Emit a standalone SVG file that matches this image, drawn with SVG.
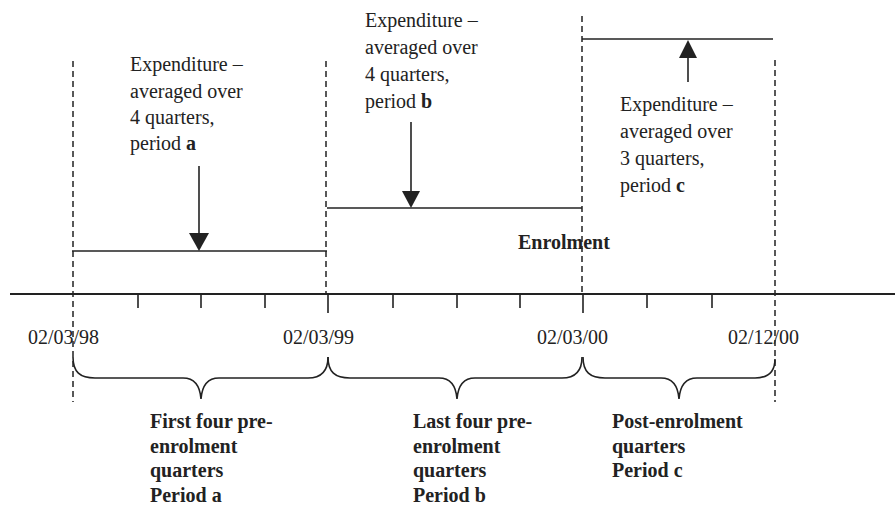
<svg xmlns="http://www.w3.org/2000/svg" width="895" height="507" viewBox="0 0 895 507">
<style>
text{font-family:"Liberation Serif","Times New Roman",serif;font-size:20px;fill:#222}
.b{font-weight:bold}
.ln{stroke:#222;stroke-width:1.6;fill:none}
.ax{stroke:#222;stroke-width:2;fill:none}
.dash{stroke:#222;stroke-width:1.5;stroke-dasharray:6 4;fill:none}
.ah{fill:#222;stroke:none}
</style>
<rect width="895" height="507" fill="#fff"/>
<g id="guides">
<line class="dash" x1="73" y1="61" x2="73" y2="402"/>
<line class="dash" x1="326" y1="61" x2="326" y2="294"/>
<line class="dash" x1="582" y1="16" x2="582" y2="294"/>
<line class="dash" x1="775" y1="60" x2="775" y2="402"/>
</g>
<g id="axis">
<line class="ax" x1="10" y1="294" x2="895" y2="294"/>
<path class="ln" d="M138,294V308M201,294V308M265,294V308M328,294V313M393,294V308M457,294V308M520,294V308M583,294V313M647,294V308M712,294V308"/>
</g>
<g id="levels">
<line class="ln" x1="72" y1="251" x2="327" y2="251"/>
<line class="ln" x1="327" y1="208" x2="582" y2="208"/>
<line class="ln" x1="582" y1="39" x2="773" y2="39"/>
</g>
<g id="connectors">
<line class="ln" x1="199" y1="166" x2="199" y2="236"/>
<polygon class="ah" points="189,233 209,233 199,251"/>
<line class="ln" x1="411" y1="122" x2="411" y2="194"/>
<polygon class="ah" points="402,191 420,191 411,208"/>
<line class="ln" x1="688" y1="82" x2="688" y2="55"/>
<polygon class="ah" points="679,58 697,58 688,40"/>
</g>
<g id="braces">
<path class="ln" d="M73,357 C73,372 80,378 95,378 L183,378 C195,378 200,386 201,399 C202,386 207,378 219,378 L308,378 C321,378 328,372 328,357"/>
<path class="ln" d="M328,357 C328,372 335,378 350,378 L439,378 C451,378 456,386 457,399 C458,386 463,378 475,378 L562,378 C575,378 582,372 582,357"/>
<path class="ln" d="M583,357 C583,372 590,378 605,378 L661,378 C673,378 678,386 679,399 C680,386 685,378 697,378 L755,378 C768,378 775,372 775,359"/>
</g>
<g id="label-a">
<text x="130" y="71">Expenditure –</text>
<text x="130" y="97.5">averaged over</text>
<text x="130" y="124">4 quarters,</text>
<text x="130" y="150">period <tspan class="b">a</tspan></text>
</g>
<g id="label-b">
<text x="365" y="27">Expenditure –</text>
<text x="365" y="54">averaged over</text>
<text x="365" y="81">4 quarters,</text>
<text x="365" y="108">period <tspan class="b">b</tspan></text>
</g>
<g id="label-c">
<text x="620" y="111">Expenditure –</text>
<text x="620" y="138">averaged over</text>
<text x="620" y="165">3 quarters,</text>
<text x="620" y="192">period <tspan class="b">c</tspan></text>
</g>
<g id="enrolment">
<text class="b" x="518" y="249">Enrolment</text>
</g>
<g id="dates">
<text x="28" y="344">02/03/98</text>
<text x="283" y="344">02/03/99</text>
<text x="537" y="344">02/03/00</text>
<text x="728" y="344">02/12/00</text>
</g>
<g id="period-a">
<text class="b" x="150" y="428">First four pre-</text>
<text class="b" x="150" y="453">enrolment</text>
<text class="b" x="150" y="477">quarters</text>
<text class="b" x="150" y="502">Period a</text>
</g>
<g id="period-b">
<text class="b" x="413" y="428">Last four pre-</text>
<text class="b" x="413" y="453">enrolment</text>
<text class="b" x="413" y="477">quarters</text>
<text class="b" x="413" y="502">Period b</text>
</g>
<g id="period-c">
<text class="b" x="612" y="428">Post-enrolment</text>
<text class="b" x="612" y="453">quarters</text>
<text class="b" x="612" y="477">Period c</text>
</g>
</svg>
